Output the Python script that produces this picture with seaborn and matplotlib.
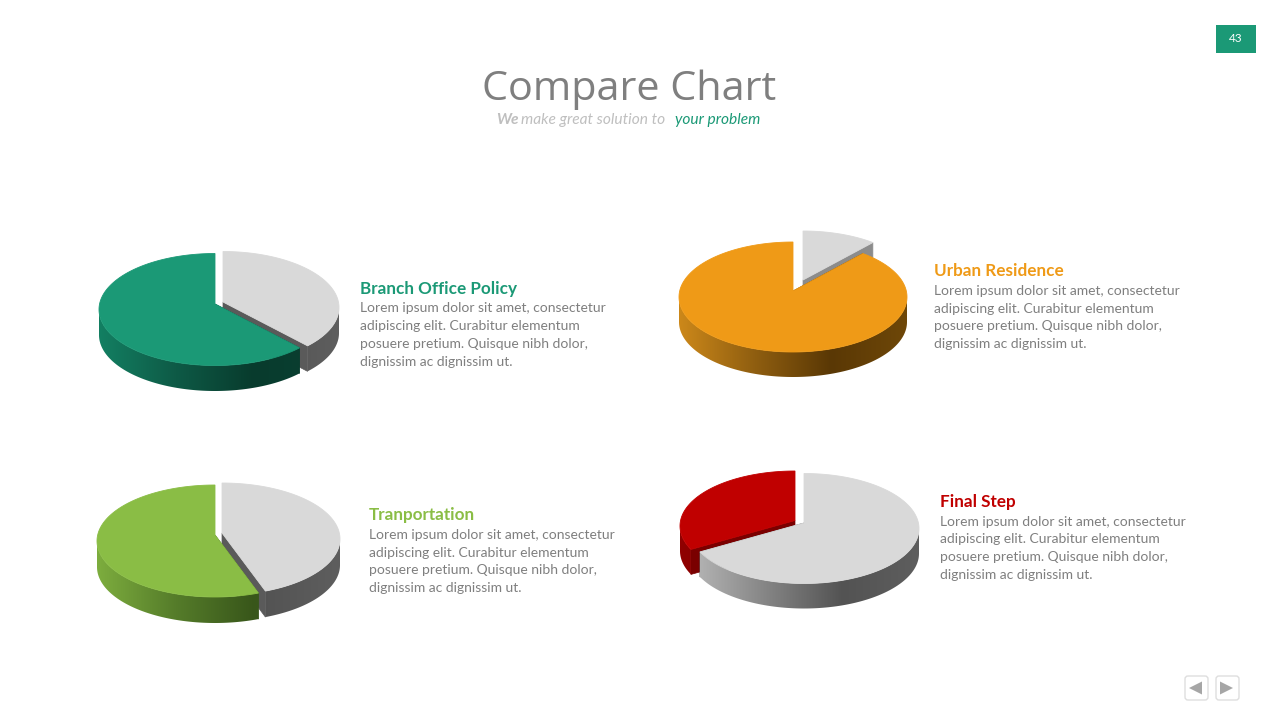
import numpy as np
import matplotlib
matplotlib.use("Agg")
import matplotlib.pyplot as plt
from matplotlib.patches import Polygon, Rectangle, FancyBboxPatch
import seaborn as sns

# Shares of each pie, in percent
headings = ["Branch Office Policy", "Urban Residence", "Tranportation", "Final Step"]
grey_share = [37, 10.5, 44, 68]
accent_share = [63, 89.5, 56, 32]

body_lines = [
    "Lorem ipsum dolor sit amet, consectetur",
    "adipiscing elit. Curabitur elementum",
    "posuere pretium. Quisque nibh dolor,",
    "dignissim ac dignissim ut.",
]

# Placement and colouring of each pie on the slide (pixel units)
ACCENT = ["#1B9976", "#EF9A17", "#8ABD45", "#C00000"]
SIDE_RAMP = [
    ["#137F62", "#0E5A46", "#083B2D", "#0A4032"],
    ["#CC881A", "#8F5E10", "#5A3805", "#6E4708"],
    ["#7DAD3E", "#557C2A", "#38561A", "#3C5A1C"],
    ["#900000", "#700000", "#500000", "#500000"],
]
GREY_RAMP = ["#B8B8B8", "#858585", "#535353", "#5E5E5E"]
LAYOUT = [
    dict(c=(215, 309.5), r=(116, 56), lift=5.5, depth=25.5, grey_off=(8, -2), face="#5A5A5A", accent_face=None, grey_first=True),
    dict(c=(793, 297), r=(114, 55), lift=6, depth=25, grey_off=(10, -11), face="#8C8C8C", accent_face=None, grey_first=True),
    dict(c=(215, 541), r=(118, 56), lift=6, depth=26, grey_off=(7, -2), face="#5A5A5A", accent_face=None, grey_first=True),
    dict(c=(795, 526), r=(115, 55), lift=5.5, depth=25, grey_off=(9, 2.5), face="#5A5A5A", accent_face="#7A0000", grey_first=False),
]
TEXT_POS = [(360, 289, 308.5), (934, 271, 291), (369, 515, 535), (940, 502, 521.5)]
LINE_STEP = 17.7

sns.set_theme(style="white")
plt.rcParams["font.family"] = ["Lato", "DejaVu Sans"]

fig = plt.figure(figsize=(12.8, 7.2), dpi=100, facecolor="white")
ax = fig.add_axes([0, 0, 1, 1])
ax.set_xlim(0, 1280)
ax.set_ylim(720, 0)
ax.autoscale(False)
ax.set_axis_off()

z = [2]


def next_z():
    z[0] += 1
    return z[0]


def rim(cx, cy, rx, ry, angles):
    # Angles run clockwise from twelve o'clock
    rad = np.radians(angles)
    return cx + rx * np.sin(rad), cy - ry * np.cos(rad)


def draw_slice(cx, cy, rx, ry, lift, depth, start, stop, top, ramp, face, cut_angles):
    apex = (cx, cy - lift)

    # Cut faces, seen through the gap between the slices
    for ang in cut_angles:
        x1, y1 = rim(cx, cy, rx, ry, np.array([ang]))
        pts = [apex, (x1[0], y1[0]), (x1[0], y1[0] + depth), (apex[0], apex[1] + depth)]
        ax.add_patch(Polygon(pts, closed=True, fc=face, ec=face, lw=0.5, zorder=next_z()))

    # Outer wall on the front half of the rim, shaded left to right
    lo, hi = max(start, 90), min(stop, 270)
    if hi > lo:
        ang = np.linspace(lo, hi, 160)
        x, y = rim(cx, cy, rx, ry, ang)
        wall = np.column_stack([np.r_[x, x[::-1]], np.r_[y, y[::-1] + depth]])
        order = next_z()
        clip = Polygon(wall, closed=True, transform=ax.transData, fc="none", ec="none")
        ax.add_patch(clip)
        cmap = sns.blend_palette(ramp, as_cmap=True)
        img = ax.imshow(
            np.linspace(0, 1, 256).reshape(1, -1),
            extent=(cx - rx, cx + rx, cy + ry + depth + 2, cy - 2),
            cmap=cmap, vmin=0, vmax=1, aspect="auto", zorder=order,
        )
        img.set_clip_path(clip)

    # Top surface
    ang = np.linspace(start, stop, 240)
    x, y = rim(cx, cy, rx, ry, ang)
    pts = np.column_stack([np.r_[apex[0], x], np.r_[apex[1], y]])
    ax.add_patch(Polygon(pts, closed=True, fc=top, ec=top, lw=0.6, zorder=next_z()))


for grey, accent, layout, colour, ramp in zip(grey_share, accent_share, LAYOUT, ACCENT, SIDE_RAMP):
    (cx, cy), (rx, ry) = layout["c"], layout["r"]
    split = 360 * grey / (grey + accent)
    ox, oy = layout["grey_off"]
    grey_args = (cx + ox, cy + oy, rx, ry, layout["lift"], layout["depth"], 0, split,
                 "#D9D9D9", GREY_RAMP, layout["face"], (0, split))
    accent_face = layout["accent_face"] or ramp[2]
    accent_args = (cx, cy, rx, ry, layout["lift"], layout["depth"], split, 360,
                   colour, ramp, accent_face, (split,))
    order = (grey_args, accent_args) if layout["grey_first"] else (accent_args, grey_args)
    for args in order:
        draw_slice(*args)

# Captions beside each pie
for heading, colour, (tx, hy, by) in zip(headings, ACCENT, TEXT_POS):
    ax.text(tx, hy, heading, color=colour, fontsize=12.35, fontweight="bold", va="center", ha="left", zorder=50)
    for i, line in enumerate(body_lines):
        ax.text(tx, by + i * LINE_STEP, line, color="#7F7F7F", fontsize=10.0, va="center", ha="left", zorder=50)

# Slide heading
ax.text(629, 89.5, "Compare Chart", color="#7F7F7F", fontsize=29.8, family="Open Sans", va="center", ha="center", zorder=50)
ax.text(496, 120, "We", color="#BFBFBF", fontsize=11.2, style="italic", fontweight="bold", va="center", ha="left", zorder=50)
ax.text(521, 120, "make great solution to", color="#BFBFBF", fontsize=11.2, style="italic", va="center", ha="left", zorder=50)
ax.text(675, 120, "your problem", color="#1B9976", fontsize=11.2, style="italic", va="center", ha="left", zorder=50)

# Page number badge
ax.add_patch(Rectangle((1216, 25), 40, 28, fc="#1B9976", ec="none", zorder=50))
ax.text(1235.5, 39, "43", color="white", fontsize=8.5, va="center", ha="center", zorder=51)

# Navigation buttons
for left, tip, base in ((1185, 1189, 1202), (1216, 1233, 1220)):
    ax.add_patch(FancyBboxPatch((left + 2, 678), 19, 20, boxstyle="round,pad=2,rounding_size=3",
                                fc="white", ec="#DEDEDE", lw=1.0, zorder=50))
    ax.add_patch(Polygon([(tip, 688), (base, 681.5), (base, 694.5)], closed=True, fc="#A6A6A6", ec="none", zorder=51))

fig.savefig("out.png", dpi=100, facecolor="white")
